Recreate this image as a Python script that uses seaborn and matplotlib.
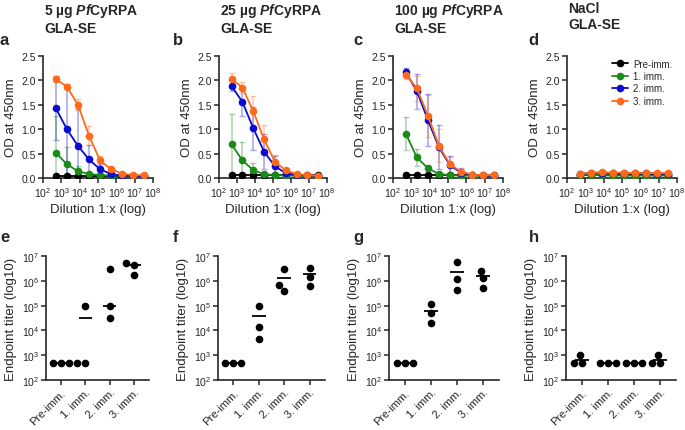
import matplotlib
matplotlib.use("Agg")
import matplotlib.pyplot as plt
import matplotlib.ticker as mticker
import seaborn as sns
import numpy as np
import pandas as pd

# ---- data -------------------------------------------------------------
groups = ["Pre-imm.", "1. imm.", "2. imm.", "3. imm."]
colors = ["#000000", "#1a8a1a", "#0b0bd0", "#ff6a1a"]
dilutions = [500, 2000, 8000, 32000, 128000, 512000, 2048000, 8192000, 32768000]

titles = ["5 µg $\\mathit{Pf}$CyRPA\nGLA-SE", "25 µg $\\mathit{Pf}$CyRPA\nGLA-SE",
          "100 µg $\\mathit{Pf}$CyRPA\nGLA-SE", "NaCl\nGLA-SE"]

# OD means (panel a-d), one list per group
a_pre = [0.05, 0.05, 0.05, 0.05, 0.05, 0.05, 0.05, 0.05, 0.05]
a_imm1 = [0.52, 0.28, 0.14, 0.08, 0.06, 0.05, 0.05, 0.04, 0.04]
a_imm2 = [1.43, 1.00, 0.66, 0.38, 0.18, 0.08, 0.05, 0.05, 0.04]
a_imm3 = [2.03, 1.87, 1.50, 0.87, 0.36, 0.18, 0.09, 0.06, 0.06]
b_pre = [0.07, 0.07, 0.07, 0.07, 0.07, 0.07, 0.07, 0.07, 0.07]
b_imm1 = [0.69, 0.36, 0.16, 0.08, 0.06, 0.05, 0.05, 0.04, 0.04]
b_imm2 = [1.88, 1.56, 1.02, 0.54, 0.24, 0.10, 0.06, 0.05, 0.05]
b_imm3 = [2.03, 1.85, 1.37, 0.79, 0.33, 0.16, 0.08, 0.06, 0.05]
c_pre = [0.07, 0.07, 0.07, 0.07, 0.07, 0.07, 0.07, 0.07, 0.07]
c_imm1 = [0.91, 0.42, 0.20, 0.08, 0.06, 0.05, 0.05, 0.04, 0.04]
c_imm2 = [2.17, 1.78, 1.19, 0.63, 0.26, 0.11, 0.07, 0.05, 0.05]
c_imm3 = [2.12, 1.84, 1.28, 0.66, 0.28, 0.13, 0.07, 0.06, 0.06]
d_pre = [0.06, 0.06, 0.06, 0.06, 0.06, 0.06, 0.06, 0.06, 0.06]
d_imm1 = [0.07, 0.06, 0.06, 0.05, 0.05, 0.05, 0.05, 0.05, 0.05]
d_imm2 = [0.09, 0.10, 0.11, 0.10, 0.10, 0.11, 0.10, 0.09, 0.09]
d_imm3 = [0.09, 0.11, 0.12, 0.11, 0.11, 0.10, 0.10, 0.10, 0.10]

# standard deviations
a_sd_pre = [0.01, 0.01, 0.01, 0.01, 0.01, 0.01, 0.01, 0.01, 0.01]
a_sd_imm1 = [0.76, 0.36, 0.11, 0.03, 0.02, 0.01, 0.01, 0.01, 0.01]
a_sd_imm2 = [0.66, 0.93, 0.75, 0.30, 0.10, 0.04, 0.02, 0.01, 0.01]
a_sd_imm3 = [0.07, 0.02, 0.11, 0.19, 0.10, 0.03, 0.02, 0.01, 0.01]
b_sd_pre = [0.01, 0.01, 0.01, 0.01, 0.01, 0.01, 0.01, 0.01, 0.01]
b_sd_imm1 = [0.63, 0.37, 0.14, 0.02, 0.01, 0.01, 0.01, 0.01, 0.01]
b_sd_imm2 = [0.10, 0.30, 0.44, 0.36, 0.22, 0.05, 0.02, 0.01, 0.01]
b_sd_imm3 = [0.12, 0.11, 0.32, 0.29, 0.14, 0.03, 0.02, 0.01, 0.01]
c_sd_pre = [0.01, 0.01, 0.01, 0.01, 0.01, 0.01, 0.01, 0.01, 0.01]
c_sd_imm1 = [0.33, 0.18, 0.05, 0.02, 0.01, 0.01, 0.01, 0.01, 0.01]
c_sd_imm2 = [0.09, 0.36, 0.54, 0.45, 0.20, 0.10, 0.02, 0.01, 0.01]
c_sd_imm3 = [0.10, 0.26, 0.43, 0.34, 0.15, 0.05, 0.02, 0.01, 0.01]
d_sd_pre = [0.01, 0.01, 0.01, 0.01, 0.01, 0.01, 0.01, 0.01, 0.01]
d_sd_imm1 = [0.02, 0.02, 0.02, 0.02, 0.02, 0.02, 0.02, 0.02, 0.02]
d_sd_imm2 = [0.02, 0.02, 0.02, 0.02, 0.02, 0.02, 0.02, 0.02, 0.02]
d_sd_imm3 = [0.02, 0.02, 0.02, 0.02, 0.02, 0.02, 0.02, 0.02, 0.02]

# endpoint titers (panel e-h), 3 mice per group
e_pre = [500, 500, 500]
e_imm1 = [500, 500, 100000]
e_imm2 = [32000, 100000, 3100000]
e_imm3 = [1700000, 4200000, 5200000]
e_line = [500, 33000, 100000, 4200000]
f_pre = [500, 500, 500]
f_imm1 = [4500, 14000, 100000]
f_imm2 = [380000, 650000, 2900000]
f_imm3 = [630000, 1400000, 3400000]
f_line = [500, 39000, 1300000, 1800000]
g_pre = [500, 500, 500]
g_imm1 = [20000, 52000, 120000]
g_imm2 = [410000, 1200000, 5500000]
g_imm3 = [520000, 1300000, 2600000]
g_line = [500, 63000, 2200000, 1500000]
h_pre = [500, 500, 1000]
h_imm1 = [500, 500, 500]
h_imm2 = [500, 500, 500]
h_imm3 = [500, 500, 1000]
h_line = [670, 500, 500, 670]

od_panels = [
    ([a_pre, a_imm1, a_imm2, a_imm3], [a_sd_pre, a_sd_imm1, a_sd_imm2, a_sd_imm3]),
    ([b_pre, b_imm1, b_imm2, b_imm3], [b_sd_pre, b_sd_imm1, b_sd_imm2, b_sd_imm3]),
    ([c_pre, c_imm1, c_imm2, c_imm3], [c_sd_pre, c_sd_imm1, c_sd_imm2, c_sd_imm3]),
    ([d_pre, d_imm1, d_imm2, d_imm3], [d_sd_pre, d_sd_imm1, d_sd_imm2, d_sd_imm3]),
]
titer_panels = [
    ([e_pre, e_imm1, e_imm2, e_imm3], e_line),
    ([f_pre, f_imm1, f_imm2, f_imm3], f_line),
    ([g_pre, g_imm1, g_imm2, g_imm3], g_line),
    ([h_pre, h_imm1, h_imm2, h_imm3], h_line),
]

# ---- style ------------------------------------------------------------
sns.set_theme(style="ticks")
plt.rcParams["font.family"] = ["Liberation Sans", "DejaVu Sans"]
plt.rcParams["mathtext.fontset"] = "custom"
plt.rcParams["mathtext.rm"] = "Liberation Sans"
plt.rcParams["mathtext.it"] = "Liberation Sans:italic:bold"
plt.rcParams["axes.linewidth"] = 1.2
plt.rcParams["xtick.major.width"] = 1.1
plt.rcParams["ytick.major.width"] = 1.1
plt.rcParams["xtick.major.size"] = 3.5
plt.rcParams["ytick.major.size"] = 3.5

fig = plt.figure(figsize=(6.85, 4.31), dpi=100)

top_rects = [(0.0628, 0.5847, 0.1606, 0.2831), (0.3197, 0.5847, 0.1577, 0.2831),
             (0.5737, 0.5847, 0.1606, 0.2831), (0.8277, 0.5847, 0.1606, 0.2831)]
bot_rects = [(0.0672, 0.116, 0.1500, 0.2877), (0.3182, 0.116, 0.1560, 0.2877),
             (0.5679, 0.116, 0.1600, 0.2877), (0.8263, 0.116, 0.1600, 0.2877)]
top_letters = ["a", "b", "c", "d"]
bot_letters = ["e", "f", "g", "h"]
letter_x = [0.0, 0.252, 0.516, 0.772]

# ---- top row: OD curves ----------------------------------------------
for i, (means, sds) in enumerate(od_panels):
    ax = fig.add_axes(top_rects[i])
    ax.set_xscale("log")
    for g, m, s, col in zip(groups, means, sds, colors):
        ax.errorbar(dilutions, m, yerr=s, fmt="none", ecolor=col, alpha=0.35,
                    elinewidth=1.2, capsize=2.5, capthick=1.0, zorder=1)
        sns.lineplot(x=dilutions, y=m, color=col, marker="o", markersize=5.5,
                     markeredgewidth=0, linewidth=1.3, ax=ax, label=g, zorder=3)
    ax.set_xlim(1e2, 1e8)
    ax.set_ylim(0, 2.5)
    ax.set_xticks([1e2, 1e3, 1e4, 1e5, 1e6, 1e7, 1e8])
    ax.xaxis.set_minor_locator(mticker.NullLocator())
    ax.set_yticks([0, 0.5, 1.0, 1.5, 2.0, 2.5])
    ax.yaxis.set_major_formatter(mticker.FormatStrFormatter("%.1f"))
    ax.tick_params(labelsize=7.5, pad=1.5)
    ax.set_xlabel("Dilution 1:x (log)", fontsize=9.5, labelpad=3)
    ax.set_ylabel("OD at 450nm", fontsize=9.5, labelpad=3)
    sns.despine(ax=ax)
    if i == 3:
        ax.legend(loc="upper right", bbox_to_anchor=(1.04, 1.05), frameon=False,
                  fontsize=7, handlelength=1.6, handletextpad=0.6, labelspacing=0.25)
    else:
        ax.get_legend().remove()
    x0 = top_rects[i][0]
    fig.text(x0 + 0.002, 0.995, titles[i], ha="left", va="top", fontsize=10,
             fontweight="bold", linespacing=1.15)
    fig.text(letter_x[i], 0.905, top_letters[i], ha="left", va="center",
             fontsize=12, fontweight="bold")

# ---- bottom row: endpoint titers ------------------------------------
for i, (vals, line) in enumerate(titer_panels):
    ax = fig.add_axes(bot_rects[i])
    df = pd.DataFrame({
        "group": np.repeat(groups, [len(v) for v in vals]),
        "titer": np.concatenate(vals),
    })
    sns.swarmplot(data=df, x="group", y="titer", order=groups, color="black",
                  size=5.5, log_scale=True, ax=ax, zorder=3)
    for k, mval in enumerate(line):
        ax.hlines(mval, k - 0.27, k + 0.27, color="black", linewidth=1.3, zorder=2)
    ax.set_ylim(1e2, 1e7)
    ax.set_xlim(-0.6, 3.6)
    ax.set_yticks([1e2, 1e3, 1e4, 1e5, 1e6, 1e7])
    ax.yaxis.set_minor_locator(mticker.NullLocator())
    ax.tick_params(axis="y", labelsize=7.5, pad=1.5)
    ax.tick_params(axis="x", labelsize=8, pad=1.5)
    plt.setp(ax.get_xticklabels(), rotation=45, ha="right", rotation_mode="anchor")
    ax.set_xlabel("")
    ax.set_ylabel("Endpoint titer (log10)", fontsize=9.5, labelpad=3)
    sns.despine(ax=ax)
    fig.text(letter_x[i], 0.45, bot_letters[i], ha="left", va="center",
             fontsize=12, fontweight="bold")

fig.savefig("out.png", dpi=100)
